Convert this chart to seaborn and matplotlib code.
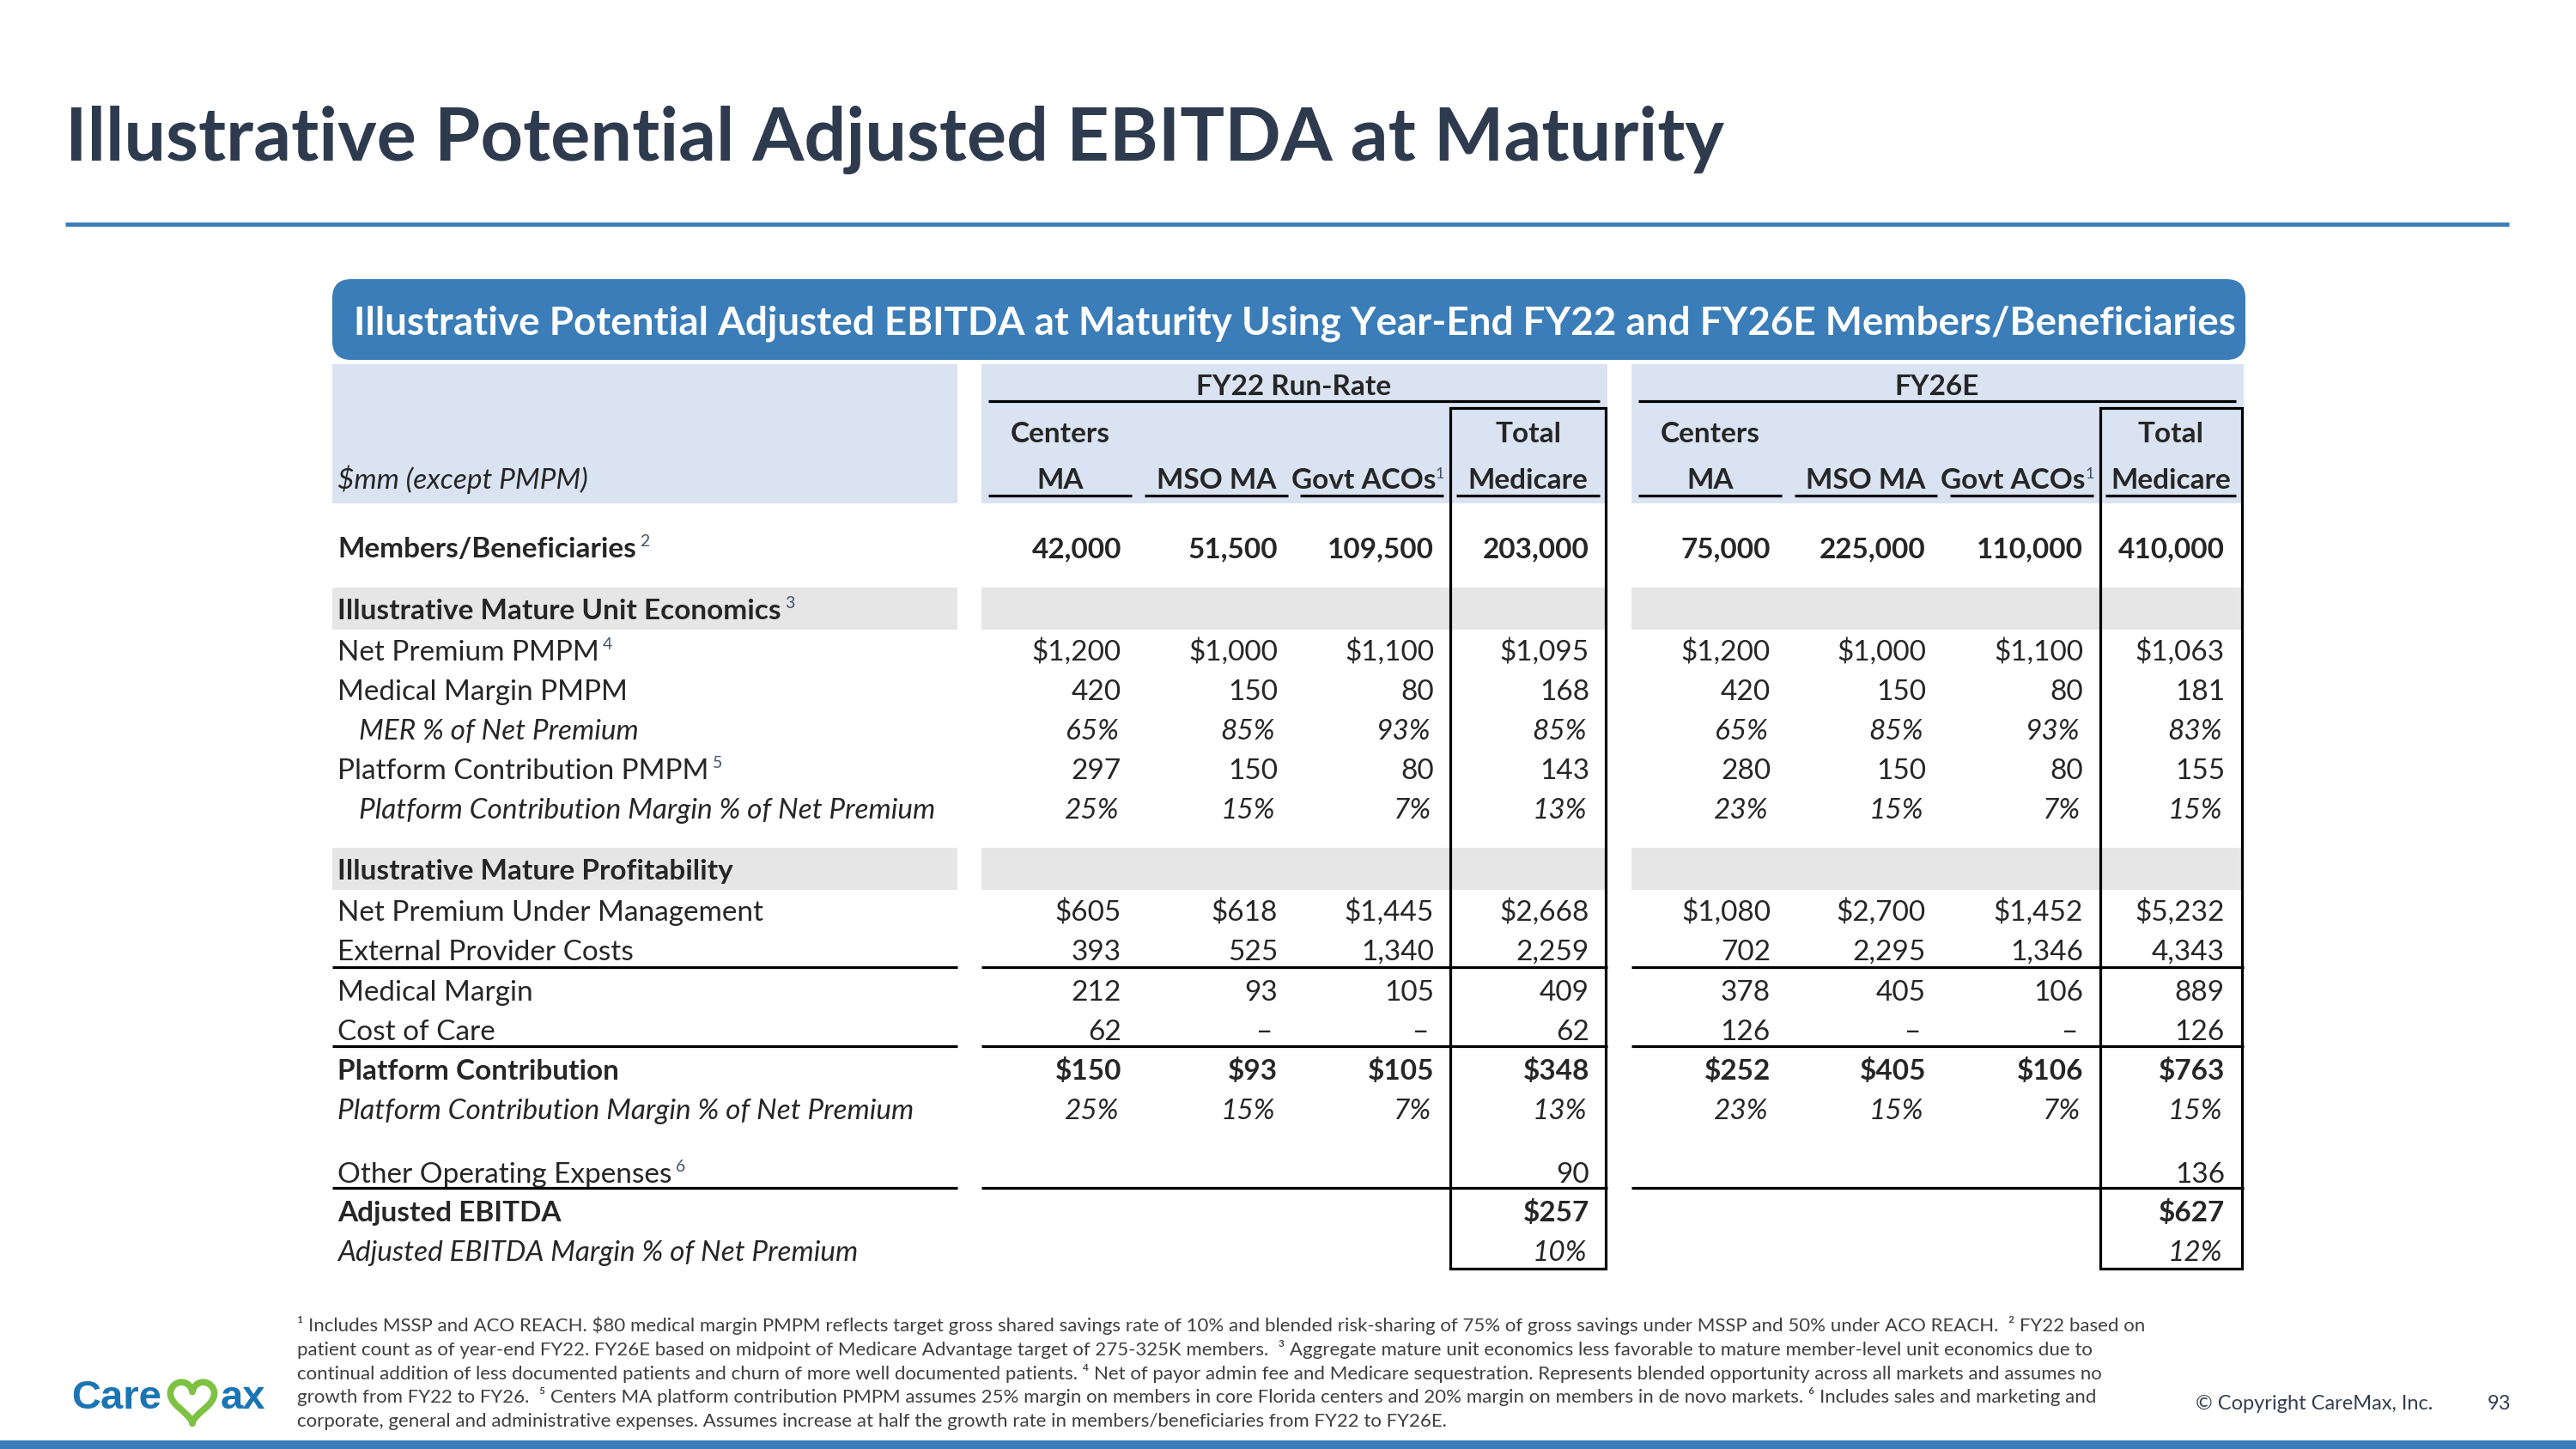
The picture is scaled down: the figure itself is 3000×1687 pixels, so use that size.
import matplotlib
matplotlib.use("Agg")
import matplotlib.pyplot as plt
from matplotlib.patches import Rectangle, FancyBboxPatch
import numpy as np
import seaborn as sns

# ---------------- data ----------------
title = "Illustrative Potential Adjusted EBITDA at Maturity"
banner = ("Illustrative Potential Adjusted EBITDA at Maturity Using Year-End FY22 "
          "and FY26E Members/Beneficiaries")
periods = ["FY22 Run-Rate", "FY26E"]
col_top = ["Centers", "", "", "Total"]
col_bottom = ["MA", "MSO MA", "Govt ACOs", "Medicare"]
col_bottom_sup = ["", "", "1", ""]
units_label = "$mm (except PMPM)"

members_fy22 = [42000, 51500, 109500, 203000]
members_fy26 = [75000, 225000, 110000, 410000]
net_premium_pmpm_fy22 = [1200, 1000, 1100, 1095]
net_premium_pmpm_fy26 = [1200, 1000, 1100, 1063]
medical_margin_pmpm_fy22 = [420, 150, 80, 168]
medical_margin_pmpm_fy26 = [420, 150, 80, 181]
mer_pct_fy22 = [65, 85, 93, 85]
mer_pct_fy26 = [65, 85, 93, 83]
platform_pmpm_fy22 = [297, 150, 80, 143]
platform_pmpm_fy26 = [280, 150, 80, 155]
platform_margin_pmpm_fy22 = [25, 15, 7, 13]
platform_margin_pmpm_fy26 = [23, 15, 7, 15]
net_premium_mgmt_fy22 = [605, 618, 1445, 2668]
net_premium_mgmt_fy26 = [1080, 2700, 1452, 5232]
external_costs_fy22 = [393, 525, 1340, 2259]
external_costs_fy26 = [702, 2295, 1346, 4343]
medical_margin_fy22 = [212, 93, 105, 409]
medical_margin_fy26 = [378, 405, 106, 889]
cost_of_care_fy22 = [62, 0, 0, 62]
cost_of_care_fy26 = [126, 0, 0, 126]
platform_contrib_fy22 = [150, 93, 105, 348]
platform_contrib_fy26 = [252, 405, 106, 763]
platform_margin_fy22 = [25, 15, 7, 13]
platform_margin_fy26 = [23, 15, 7, 15]
other_opex_fy22 = [None, None, None, 90]
other_opex_fy26 = [None, None, None, 136]
adj_ebitda_fy22 = [None, None, None, 257]
adj_ebitda_fy26 = [None, None, None, 627]
adj_margin_fy22 = [None, None, None, 10]
adj_margin_fy26 = [None, None, None, 12]

# (label, superscript, text style, number format, FY22 values, FY26E values)
rows = [
    ("Members/Beneficiaries", "2", "bold", "num", members_fy22, members_fy26),
    ("Illustrative Mature Unit Economics", "3", "section", None, None, None),
    ("Net Premium PMPM", "4", "normal", "usd", net_premium_pmpm_fy22, net_premium_pmpm_fy26),
    ("Medical Margin PMPM", "", "normal", "num", medical_margin_pmpm_fy22, medical_margin_pmpm_fy26),
    ("MER % of Net Premium", "", "italic_indent", "pct", mer_pct_fy22, mer_pct_fy26),
    ("Platform Contribution PMPM", "5", "normal", "num", platform_pmpm_fy22, platform_pmpm_fy26),
    ("Platform Contribution Margin % of Net Premium", "", "italic_indent", "pct",
     platform_margin_pmpm_fy22, platform_margin_pmpm_fy26),
    ("Illustrative Mature Profitability", "", "section", None, None, None),
    ("Net Premium Under Management", "", "normal", "usd", net_premium_mgmt_fy22, net_premium_mgmt_fy26),
    ("External Provider Costs", "", "normal", "num", external_costs_fy22, external_costs_fy26),
    ("Medical Margin", "", "normal", "num", medical_margin_fy22, medical_margin_fy26),
    ("Cost of Care", "", "normal", "num", cost_of_care_fy22, cost_of_care_fy26),
    ("Platform Contribution", "", "bold", "usd", platform_contrib_fy22, platform_contrib_fy26),
    ("Platform Contribution Margin % of Net Premium", "", "italic", "pct",
     platform_margin_fy22, platform_margin_fy26),
    ("Other Operating Expenses", "6", "normal", "num", other_opex_fy22, other_opex_fy26),
    ("Adjusted EBITDA", "", "bold", "usd", adj_ebitda_fy22, adj_ebitda_fy26),
    ("Adjusted EBITDA Margin % of Net Premium", "", "italic", "pct", adj_margin_fy22, adj_margin_fy26),
]

footnotes = [
    "\u00b9 Includes MSSP and ACO REACH. $80 medical margin PMPM reflects target gross shared savings rate of 10% "
    "and blended risk-sharing of 75% of gross savings under MSSP and 50% under ACO REACH.  \u00b2 FY22 based on",
    "patient count as of year-end FY22. FY26E based on midpoint of Medicare Advantage target of 275-325K members.  "
    "\u00b3 Aggregate mature unit economics less favorable to mature member-level unit economics due to",
    "continual addition of less documented patients and churn of more well documented patients. \u2074 Net of payor "
    "admin fee and Medicare sequestration. Represents blended opportunity across all markets and assumes no",
    "growth from FY22 to FY26.  \u2075 Centers MA platform contribution PMPM assumes 25% margin on members in core "
    "Florida centers and 20% margin on members in de novo markets. \u2076 Includes sales and marketing and",
    "corporate, general and administrative expenses. Assumes increase at half the growth rate in "
    "members/beneficiaries from FY22 to FY26E.",
]
copyright_text = "\u00a9 Copyright CareMax, Inc."
page_number = "93"

# ---------------- layout / style ----------------
BLUE = "#3A7DB8"
TITLE_C = "#2E3B4E"
HDR_BG = "#DAE3F1"
BAND_BG = "#E6E6E6"
SUP_C = "#44546A"
FOOT_C = "#3F3F3F"

sns.set_theme(style="white")
plt.rcParams["font.family"] = ["Lato", "DejaVu Sans"]

fig = plt.figure(figsize=(30, 16.87), dpi=100)
ax = fig.add_axes([0, 0, 1, 1])
ax.set_xlim(0, 3000)
ax.set_ylim(1687, 0)
ax.axis("off")
renderer = fig.canvas.get_renderer()


def fit_width(t, target):
    w = t.get_window_extent(renderer).width
    t.set_fontsize(t.get_fontsize() * target / w)
    return t.get_fontsize()


def fmt(v, kind):
    if v is None:
        return ""
    if v == 0:
        return "\u2013"
    if kind == "usd":
        return f"${v:,}"
    if kind == "pct":
        return f"{v}%"
    return f"{v:,}"


# title + rule
t = ax.text(76, 187, title, fontsize=61, fontweight="bold", color=TITLE_C, va="baseline", ha="left")
fit_width(t, 1932)
ax.plot([76, 2922], [261, 261], color=BLUE, lw=3.5, solid_capstyle="butt")

# banner
ax.add_patch(FancyBboxPatch((387, 325), 2228, 94, boxstyle="round,pad=0,rounding_size=22",
                            fc=BLUE, ec="none", zorder=1))
t = ax.text(1508, 389, banner, fontsize=31, fontweight="bold", color="white",
            va="baseline", ha="center", zorder=3)
fit_width(t, 2190)

# block geometry
blocks = [(387, 1115), (1143, 1872), (1900, 2613)]
col_spans = [
    [(1151, 1318), (1333, 1500), (1514, 1681), (1696, 1863)],
    [(1908, 2075), (2090, 2256), (2271, 2438), (2452, 2604)],
]
period_spans = [(1151, 1863), (1908, 2604)]
right_edges = [[1306, 1488, 1670, 1851], [2062, 2243, 2426, 2591]]
boxes = [(1689, 1870), (2446, 2611)]
row_y = [637, 709, 757, 803, 849, 895, 941, 1012, 1060, 1106, 1153, 1199, 1245, 1291, 1365, 1410, 1456]
rule_y = [1126, 1218, 1383]
FS = 24
HALF_CAP = 12
LW = 2.3
SUP_FS = 14

# header background
for x0, x1 in blocks:
    ax.add_patch(Rectangle((x0, 424), x1 - x0, 162, fc=HDR_BG, ec="none", zorder=1))

# header text and underlines
for p, period in enumerate(periods):
    a, b = period_spans[p]
    ax.text((a + b) / 2, 448 + HALF_CAP, period, fontsize=FS, fontweight="bold", ha="center",
            va="baseline", zorder=3)
    ax.plot([a, b], [467, 467], color="black", lw=LW, solid_capstyle="butt", zorder=3)
    for c in range(4):
        x0, x1 = col_spans[p][c]
        xc = (x0 + x1) / 2
        if col_top[c]:
            ax.text(xc, 503 + HALF_CAP, col_top[c], fontsize=FS, fontweight="bold", ha="center",
                    va="baseline", zorder=3)
        if col_bottom_sup[c]:
            tt = ax.text(x1 - 9, 557 + HALF_CAP, col_bottom[c], fontsize=FS, fontweight="bold",
                         ha="right", va="baseline", zorder=3)
            ax.annotate(col_bottom_sup[c], xy=(1, 1), xycoords=tt, xytext=(0, 1),
                        textcoords="offset points", fontsize=SUP_FS - 1, color=SUP_C, ha="left", va="top",
                        zorder=3)
        else:
            ax.text(xc, 557 + HALF_CAP, col_bottom[c], fontsize=FS, fontweight="bold", ha="center",
                    va="baseline", zorder=3)
        ax.plot([x0, x1], [577, 577], color="black", lw=LW, solid_capstyle="butt", zorder=3)

ax.text(393, 557 + HALF_CAP, units_label, fontsize=FS, fontstyle="italic", ha="left", va="baseline", zorder=3)

# rows
for (label, sup, style, kind, v22, v26), yc in zip(rows, row_y):
    base = yc + HALF_CAP
    weight = "bold" if style in ("bold", "section") else "normal"
    fstyle = "italic" if style.startswith("italic") else "normal"
    x = 418 if style == "italic_indent" else 393
    if style == "section":
        for x0, x1 in blocks:
            ax.add_patch(Rectangle((x0, yc - 25), x1 - x0, 49, fc=BAND_BG, ec="none", zorder=1))
    tl = ax.text(x, base, label, fontsize=FS, fontweight=weight, fontstyle=fstyle,
                 ha="left", va="baseline", zorder=3)
    if sup:
        ax.annotate(sup, xy=(1, 1), xycoords=tl, xytext=(3, 2), textcoords="offset points",
                    fontsize=SUP_FS, color=SUP_C, ha="left", va="top", zorder=3)
    for p, vals in enumerate((v22, v26)):
        if vals is None:
            continue
        for c, v in enumerate(vals):
            s = fmt(v, kind)
            if not s:
                continue
            xr = right_edges[p][c] - (3 if kind == "pct" else 0)
            if v == 0:
                xr -= 6
            ax.text(xr, base, s, fontsize=FS, fontweight=weight, fontstyle=fstyle,
                    ha="right", va="baseline", zorder=3)

# body rules
for y in rule_y:
    for x0, x1 in blocks:
        ax.plot([x0, x1], [y, y], color="black", lw=LW, solid_capstyle="butt", zorder=4)

# total boxes
for x0, x1 in boxes:
    ax.add_patch(Rectangle((x0, 475), x1 - x0, 1477 - 475, fill=False, ec="black", lw=LW, zorder=4))

# footnotes
fy = [1539 + i * 27.75 for i in range(len(footnotes))]
t0 = ax.text(346, fy[0] + 11, footnotes[0], fontsize=16, color=FOOT_C, ha="left", va="baseline")
ffs = fit_width(t0, 2160)
for line, y in zip(footnotes[1:], fy[1:]):
    ax.text(346, y + 11, line, fontsize=ffs, color=FOOT_C, ha="left", va="baseline")

# copyright and page number
ax.text(2557, 1641, copyright_text, fontsize=17, color="#333F50", ha="left", va="baseline")
ax.text(2924, 1641, page_number, fontsize=17, color="#333F50", ha="right", va="baseline")

# logo
LOGO_BLUE = "#1B75B3"
LOGO_GREEN = "#7DC242"
ax.text(83, 1640, "Care", family=["Liberation Sans", "DejaVu Sans"], fontweight="bold",
        fontsize=34, color=LOGO_BLUE, ha="left", va="baseline")
ax.text(257, 1640, "ax", family=["Liberation Sans", "DejaVu Sans"], fontweight="bold",
        fontsize=34, color=LOGO_BLUE, ha="left", va="baseline")
tt = np.linspace(-np.pi + 0.02, np.pi - 0.02, 200)
hx = 16 * np.sin(tt) ** 3
hy = 13 * np.cos(tt) - 5 * np.cos(2 * tt) - 2 * np.cos(3 * tt) - np.cos(4 * tt)
ax.plot(224 + 1.6 * hx, 1633 - 1.65 * (hy + 2.5), color=LOGO_GREEN, lw=5.5,
        solid_capstyle="round", solid_joinstyle="round")

# bottom bar
ax.add_patch(Rectangle((0, 1677), 3000, 10, fc=BLUE, ec="none"))

fig.savefig("out.png", dpi=100, facecolor="white")
